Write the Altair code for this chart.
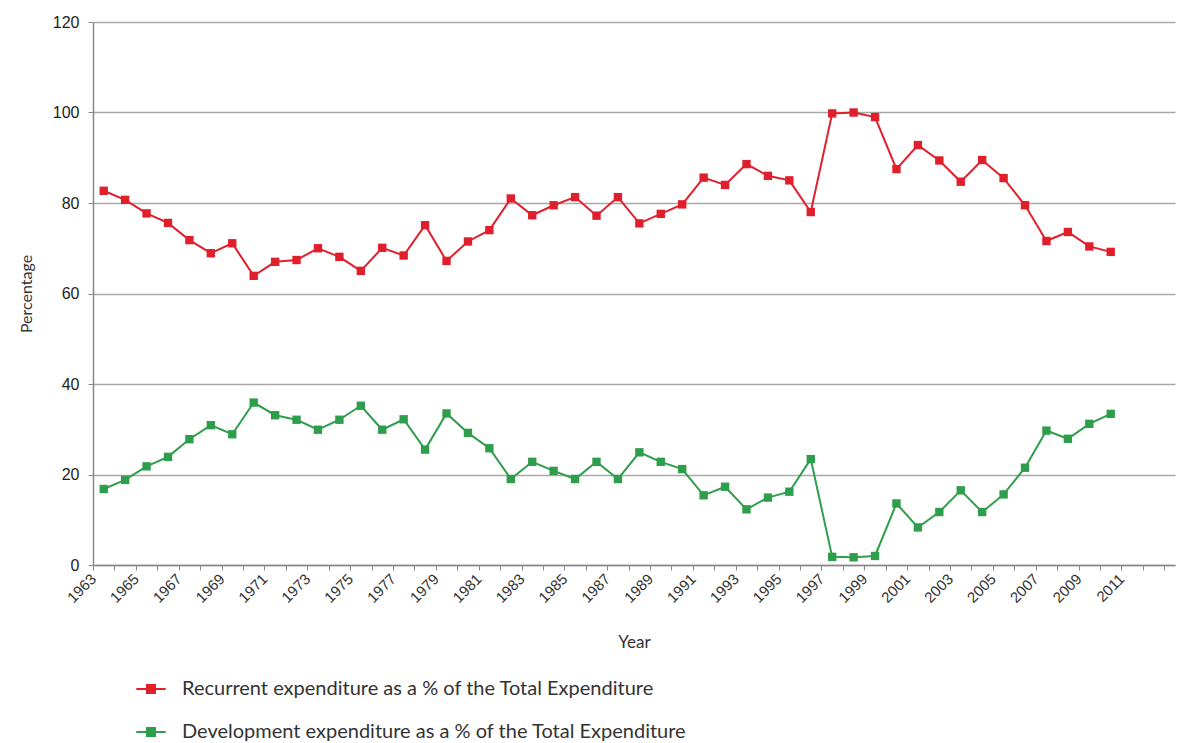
import altair as alt
import pandas as pd

years = list(range(1963, 2011))
recurrent = [82.7, 80.7, 77.7, 75.6, 71.8, 68.9, 71.1, 63.9, 67.0, 67.4,
             70.0, 68.1, 65.0, 70.1, 68.4, 75.1, 67.2, 71.5, 74.0, 81.0,
             77.3, 79.5, 81.3, 77.2, 81.3, 75.5, 77.6, 79.7, 85.6, 84.0,
             88.6, 86.0, 85.0, 78.0, 99.8, 100.0, 99.0, 87.5, 92.8, 89.4,
             84.7, 89.5, 85.5, 79.5, 71.6, 73.6, 70.4, 69.2]
development = [16.8, 18.8, 21.8, 23.9, 27.8, 30.9, 28.9, 35.9, 33.1, 32.1,
               29.9, 32.1, 35.2, 29.9, 32.2, 25.5, 33.5, 29.2, 25.8, 19.0,
               22.8, 20.8, 19.0, 22.8, 19.0, 24.9, 22.8, 21.2, 15.4, 17.3,
               12.3, 14.9, 16.2, 23.4, 1.8, 1.7, 2.0, 13.6, 8.3, 11.7,
               16.5, 11.7, 15.6, 21.5, 29.7, 27.9, 31.2, 33.4]
series_names = ["Recurrent expenditure as a % of the Total Expenditure",
                "Development expenditure as a % of the Total Expenditure"]
series_colors = ["#e01f2d", "#2e9e4c"]
tick_years = list(range(1963, 2014))
y_ticks = [0, 20, 40, 60, 80, 100, 120]

df = pd.concat([
    pd.DataFrame({"Year": years, "Percentage": recurrent, "Series": series_names[0]}),
    pd.DataFrame({"Year": years, "Percentage": development, "Series": series_names[1]}),
])

W, H = 1082, 543
step = W / (2013 - 1962.5)

legend_symbol = "M-0.7,0L0.7,0M-0.19,-0.19L0.19,-0.19L0.19,0.19L-0.19,0.19Z"

chart = alt.Chart(df).mark_line(
    strokeWidth=2,
    point=alt.OverlayMarkDef(shape="square", filled=True, size=70, opacity=1),
).encode(
    x=alt.X("Year:Q",
            scale=alt.Scale(domain=[1962.5, 2013], nice=False, zero=False),
            axis=alt.Axis(values=tick_years, tickOffset=-step / 2,
                          labelExpr="(datum.value % 2 == 1 && datum.value <= 2011) ? ('' + datum.value) : ''",
                          labelAngle=315, labelAlign="right", labelBaseline="middle",
                          labelPadding=6, labelFontSize=15, labelColor="#333333",
                          labelFont="Liberation Sans", tickSize=5, tickColor="#888888",
                          domainColor="#888888", domainWidth=1.5, grid=False,
                          labelOverlap=False, labelFlush=False,
                          title="Year", titleFontSize=17, titleFontWeight="normal",
                          titleFont="Lato", titleColor="#333333", titlePadding=29)),
    y=alt.Y("Percentage:Q",
            scale=alt.Scale(domain=[0, 120], nice=False),
            axis=alt.Axis(values=y_ticks, labelFontSize=16, labelColor="#222222",
                          labelFont="Liberation Sans", tickSize=5, tickColor="#888888",
                          domainColor="#888888", domainWidth=1.5,
                          gridColor="#a8a8a8", gridWidth=1.5, labelPadding=9,
                          title="Percentage", titleFontSize=16, titleFontWeight="normal",
                          titleFont="Lato", titleColor="#333333", titlePadding=18)),
    color=alt.Color("Series:N",
                    scale=alt.Scale(domain=series_names, range=series_colors),
                    sort=series_names,
                    legend=alt.Legend(title=None, orient="none", legendX=36, legendY=645,
                                      direction="vertical", symbolType=legend_symbol,
                                      symbolSize=1764, symbolStrokeWidth=2,
                                      labelFontSize=20, labelFont="Lato",
                                      labelColor="#333333", rowPadding=11, labelOffset=9,
                                      labelLimit=900)),
).properties(
    width=W, height=H,
    autosize=alt.AutoSizeParams(type="none"),
    padding={"left": 93, "top": 22, "right": 16, "bottom": 178},
).configure_view(stroke=None)

chart.save("out.html", embed_options={"renderer": "svg", "actions": False})
